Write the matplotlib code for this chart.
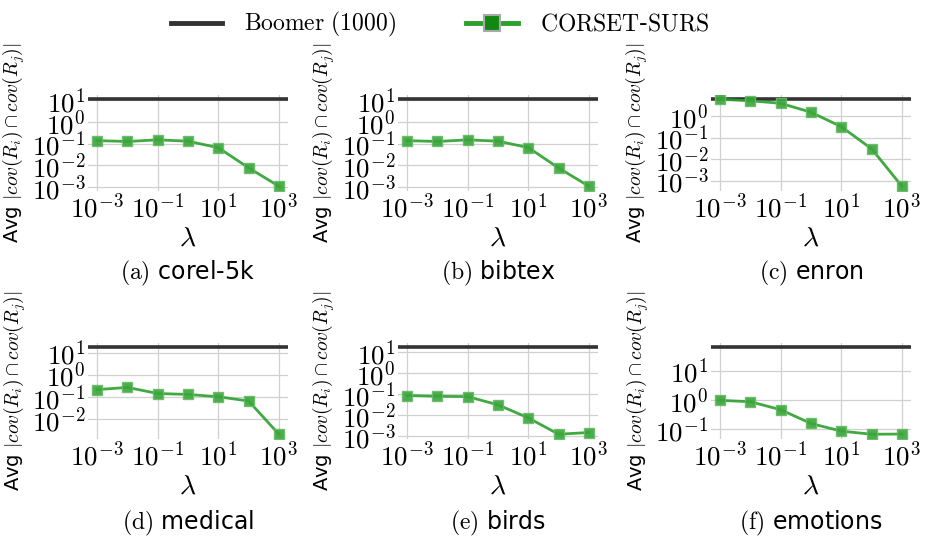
import matplotlib
matplotlib.use("Agg")
import matplotlib.pyplot as plt
import numpy as np
from matplotlib.lines import Line2D
from matplotlib.ticker import FixedLocator, LogLocator, NullLocator, FuncFormatter

plt.rcParams['mathtext.fontset'] = 'cm'
plt.rcParams['font.family'] = 'DejaVu Sans'

# values
lambdas = [1e-3, 1e-2, 1e-1, 1e0, 1e1, 1e2, 1e3]
names = ['corel-5k', 'bibtex', 'enron', 'medical', 'birds', 'emotions']
letters = ['a', 'b', 'c', 'd', 'e', 'f']
boomer = [11.7, 11.7, 6.2, 18.0, 17.0, 64.0]

corel = [0.138, 0.126, 0.150, 0.130, 0.065, 0.0076, 0.00107]
bibtex = [0.138, 0.126, 0.150, 0.130, 0.066, 0.0075, 0.00107]
enron = [6.0, 5.1, 3.9, 1.5, 0.32, 0.030, 0.00055]
medical = [0.21, 0.265, 0.14, 0.127, 0.10, 0.064, 0.002]
birds = [0.083, 0.076, 0.074, 0.030, 0.0072, 0.0012, 0.00145]
emotions = [0.98, 0.88, 0.47, 0.16, 0.088, 0.069, 0.070]
series = [corel, bibtex, enron, medical, birds, emotions]

W, H = 926, 543
fig = plt.figure(figsize=(W / 100, H / 100), dpi=100)

lefts = [88, 398, 711]
tops = [94.6, 342.6]
aw, ah = 200, 96
caption_y = [273, 523]

green = '#2ca02c'

for k in range(6):
    r, c = divmod(k, 3)
    x0 = lefts[c]
    y0 = tops[r] + ah
    ax = fig.add_axes([x0 / W, 1 - y0 / H, aw / W, ah / H])
    ax.set_xscale('log')
    ax.set_yscale('log')
    ax.axhline(boomer[k], color='#333333', lw=2.6, zorder=3)
    ax.plot(lambdas, series[k], color=green, lw=2, marker='s', ms=7,
            mfc='#3aa53a', mec='#66bb66', alpha=0.9, zorder=4)
    # keep boomer line inside the autoscaled range
    ax.plot([lambdas[0], lambdas[-1]], [boomer[k], boomer[k]], alpha=0)
    ax.xaxis.set_major_locator(FixedLocator([1e-3, 1e-1, 1e1, 1e3]))
    ax.xaxis.set_minor_locator(NullLocator())
    ax.yaxis.set_major_locator(LogLocator(base=10, numticks=20))
    ax.yaxis.set_minor_locator(NullLocator())
    fmt = FuncFormatter(lambda v, p: r'$10^{%d}$' % int(round(np.log10(v))))
    ax.xaxis.set_major_formatter(fmt)
    ax.yaxis.set_major_formatter(fmt)
    ax.tick_params(axis='both', length=0, labelsize=19.5, pad=2)
    ax.grid(True, color='#d0d0d0', lw=0.9)
    ax.set_axisbelow(True)
    for s in ax.spines.values():
        s.set_visible(False)
    ax.set_xlabel(r'$\lambda$', fontsize=20, labelpad=0)
    ax.set_ylabel(r'Avg $|cov(R_i) \cap cov(R_j)|$', fontsize=14, labelpad=3)
    fig.text((x0 + aw / 2) / W, 1 - caption_y[r] / H,
             r'$(\mathrm{%s})$ %s' % (letters[k], names[k]),
             ha='center', va='center', fontsize=17)

handles = [
    Line2D([], [], color='#333333', lw=3.5),
    Line2D([], [], color=green, lw=3.5, marker='s', ms=11,
           mfc='#118811', mec='#aaaaaa', mew=1.5),
]
fig.legend(handles, [r'$\mathrm{Boomer\ (1000)}$', r'$\mathrm{CORSET}$-$\mathrm{SURS}$'],
           loc='upper center', bbox_to_anchor=(0.475, 1.02), ncol=2, frameon=False,
           fontsize=17, handlelength=2.2, handletextpad=0.9, columnspacing=3.0)

fig.savefig('out.png', dpi=100)
